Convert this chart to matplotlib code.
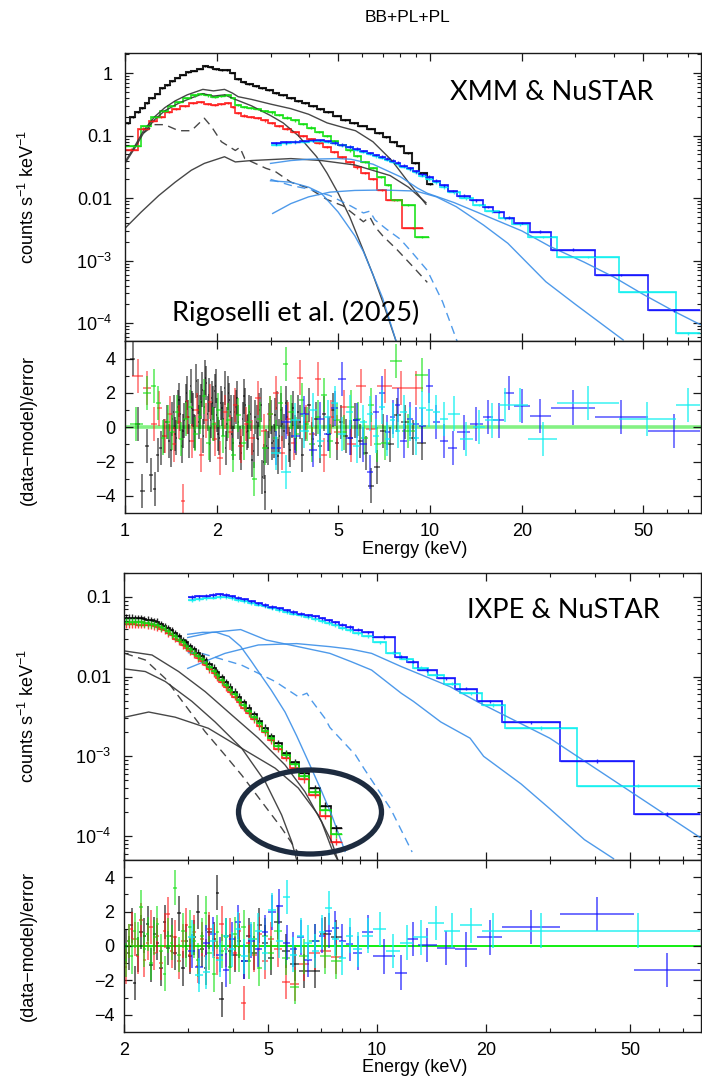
import numpy as np
import matplotlib
matplotlib.use("Agg")
import matplotlib.pyplot as plt
from matplotlib.patches import Ellipse
from matplotlib.ticker import FixedLocator, FixedFormatter, NullFormatter, LogLocator

plt.rcParams['font.family'] = ['Liberation Sans', 'DejaVu Sans']
plt.rcParams['mathtext.fontset'] = 'custom'
plt.rcParams['mathtext.rm'] = 'Liberation Sans'
plt.rcParams['mathtext.it'] = 'Liberation Sans:italic'
plt.rcParams['mathtext.bf'] = 'Liberation Sans:bold'
plt.rcParams['axes.unicode_minus'] = True

# ---------------- colours ----------------
C_PN, C_M1, C_M2, C_FA, C_FB = 'black', '#ff1a1a', '#10e010', '#1010ff', '#10f0f0'
C_CBLK, C_CBLU = '#333333', '#3b8fe8'

# ================= XMM & NuSTAR spectra =================
pn_edges = [1.00, 1.04, 1.08, 1.12, 1.16, 1.20, 1.25, 1.30, 1.35, 1.40,
            1.46, 1.52, 1.58, 1.65, 1.72, 1.80, 1.87, 1.95, 2.03, 2.12,
            2.21, 2.30, 2.40, 2.50, 2.62, 2.75, 2.90, 3.05, 3.20, 3.40,
            3.60, 3.80, 4.00, 4.25, 4.50, 4.80, 5.10, 5.45, 5.80, 6.20,
            6.60, 7.00, 7.40, 7.80, 8.20, 8.70, 9.20, 9.75, 10.2]
pn_rate = [0.157, 0.20, 0.24, 0.28, 0.33, 0.40, 0.47, 0.57, 0.65, 0.74,
           0.85, 0.95, 1.03, 1.10, 1.18, 1.30, 1.25, 1.15, 1.12, 1.12,
           1.02, 0.80, 0.72, 0.67, 0.62, 0.57, 0.53, 0.48, 0.44, 0.40,
           0.36, 0.33, 0.30, 0.27, 0.24, 0.21, 0.18, 0.16, 0.145, 0.13,
           0.11, 0.095, 0.080, 0.068, 0.052, 0.036, 0.025, 0.017]

mos2_edges = [1.00, 1.13, 1.22, 1.30, 1.38, 1.46, 1.55, 1.65, 1.74, 1.82,
              1.92, 2.02, 2.12, 2.22, 2.30, 2.40, 2.52, 2.65, 2.80, 2.95,
              3.10, 3.30, 3.50, 3.72, 3.95, 4.20, 4.45, 4.72, 5.00, 5.30,
              5.62, 5.95, 6.30, 6.70, 7.10, 7.45, 8.10, 8.90, 9.90]
mos2_rate = [0.069, 0.144, 0.20, 0.25, 0.30, 0.35, 0.40, 0.44, 0.47, 0.44,
             0.42, 0.43, 0.445, 0.40, 0.31, 0.29, 0.28, 0.27, 0.25, 0.235,
             0.215, 0.195, 0.175, 0.155, 0.135, 0.115, 0.098, 0.083, 0.07, 0.058,
             0.047, 0.038, 0.030, 0.022, 0.0162, 0.0093, 0.0077, 0.0024]

mos1_edges = [1.00, 1.10, 1.20, 1.27, 1.35, 1.43, 1.52, 1.62, 1.72, 1.82,
              1.92, 2.02, 2.12, 2.22, 2.30, 2.40, 2.52, 2.65, 2.80, 2.95,
              3.10, 3.30, 3.50, 3.72, 3.95, 4.20, 4.45, 4.72, 5.00, 5.30,
              5.62, 5.95, 6.30, 6.70, 7.20, 8.10, 9.50]
mos1_rate = [0.06, 0.13, 0.17, 0.20, 0.24, 0.27, 0.30, 0.33, 0.35, 0.32,
             0.31, 0.32, 0.33, 0.29, 0.23, 0.21, 0.20, 0.19, 0.175, 0.16,
             0.145, 0.13, 0.115, 0.10, 0.088, 0.076, 0.065, 0.055, 0.046, 0.038,
             0.031, 0.025, 0.020, 0.0135, 0.0095, 0.0033]

fpma1_edges = [3.0, 3.25, 3.5, 3.75, 4.0, 4.25, 4.5, 4.75, 5.0, 5.3,
               5.6, 5.9, 6.2, 6.5, 6.8, 7.1, 7.4, 7.7, 8.0, 8.4,
               8.8, 9.2, 9.7, 10.2, 10.8, 11.5, 12.3, 13.5, 14.9, 16.1,
               17.5, 18.9, 21.3, 24.9, 34.7, 51.9, 77.0]
fpma1_rate = [0.076, 0.078, 0.080, 0.082, 0.084, 0.085, 0.082, 0.077, 0.072, 0.067,
              0.062, 0.057, 0.053, 0.049, 0.046, 0.043, 0.040, 0.037, 0.033, 0.030,
              0.027, 0.024, 0.022, 0.019, 0.016, 0.013, 0.011, 0.0093, 0.0072, 0.0060,
              0.0049, 0.0040, 0.0029, 0.0015, 5.9e-4, 1.6e-4]
fpma1_resid = [-1.2, 0.3, -0.5, 0.8, -1.3, 0.5, -0.4, 1.1, 2.8, -0.6,
               0.4, -1.0, -2.6, 0.9, 2.0, -0.3, 0.6, 1.3, -0.8, 0.5,
               0.2, 0.1, 2.4, 0.3, -0.8, -1.2, -0.3, 0.2, 0.6, 0.4,
               2.0, 1.25, 0.65, 1.15, 0.6, -0.2]

fpmb1_edges = [3.0, 3.25, 3.5, 3.75, 4.0, 4.25, 4.5, 4.75, 5.0, 5.3,
               5.6, 5.9, 6.2, 6.5, 6.8, 7.1, 7.4, 7.7, 8.0, 8.4,
               8.8, 9.2, 9.7, 10.2, 10.8, 11.5, 12.5, 13.8, 15.2, 16.8,
               18.6, 21.0, 26.1, 41.7, 64.0, 77.0]
fpmb1_rate = [0.072, 0.075, 0.078, 0.080, 0.082, 0.083, 0.080, 0.075, 0.070, 0.065,
              0.060, 0.055, 0.051, 0.047, 0.044, 0.041, 0.038, 0.035, 0.032, 0.029,
              0.026, 0.023, 0.020, 0.018, 0.015, 0.0125, 0.0100, 0.0078, 0.0062, 0.0048,
              0.0038, 0.0024, 0.00115, 3.2e-4, 6.9e-5]
fpmb1_resid = [-1.5, -2.6, 0.4, -0.2, 1.0, -0.8, 0.6, 1.4, -0.4, 0.9,
               -1.1, 0.3, 0.8, -0.5, 1.2, -0.7, 0.4, -0.2, 0.9, 0.2,
               -0.6, 1.1, 1.0, 0.9, 0.5, 0.8, -0.7, 0.0, 0.4, 1.3,
               1.3, -0.7, 1.4, 0.5, 1.3]

# XMM residuals (energy, (data-model)/error)
pn_res_E = [1.06, 1.10, 1.14, 1.18, 1.22, 1.25, 1.28, 1.31, 1.34, 1.37,
            1.40, 1.43, 1.46, 1.49, 1.52, 1.55, 1.58, 1.61, 1.64, 1.67,
            1.70, 1.73, 1.76, 1.79, 1.82, 1.85, 1.88, 1.91, 1.94, 1.97,
            2.00, 2.04, 2.08, 2.12, 2.16, 2.20, 2.24, 2.28, 2.33, 2.38,
            2.43, 2.48, 2.53, 2.58, 2.64, 2.70, 2.76, 2.82, 2.88, 2.94,
            3.00, 3.07, 3.14, 3.21, 3.28, 3.36, 3.44, 3.52, 3.60, 3.70,
            3.80, 3.90, 4.00, 4.12, 4.24, 4.36, 4.50, 4.65, 4.80, 4.95,
            5.10, 5.30, 5.50, 5.70, 5.90, 6.15, 6.40, 6.70, 7.00, 7.40,
            7.80, 8.30, 8.80, 9.40,
            1.415, 1.445, 1.475, 1.505, 1.535, 1.565, 1.595, 1.625, 1.655, 1.685,
            1.715, 1.745, 1.775, 1.805, 1.835, 1.865, 1.895, 1.925, 1.955, 1.985,
            2.02, 2.06, 2.10, 2.14, 2.18, 2.22, 2.26, 2.305, 2.355, 2.405,
            2.455, 2.505, 2.555, 2.61, 2.67, 2.73, 2.79, 2.85, 2.91, 2.97,
            3.035, 3.105, 3.175, 3.245, 3.32, 3.40, 3.48, 3.56, 3.65, 3.75]
pn_res = [4.0, 0.2, -3.7, -1.1, -2.8, -3.6, -1.6, -1.2, -0.5, 0.3,
          -0.8, 0.5, -0.4, 1.2, 0.8, -0.2, 1.5, 0.6, 2.4, 1.0,
          -0.3, 1.8, 0.9, 2.2, 1.2, 2.6, 1.9, 0.4, 1.4, 2.1,
          0.7, -0.6, 1.1, 2.3, 0.2, 1.6, -0.4, 0.9, 1.7, -0.9,
          0.5, 1.3, -0.2, 0.8, -1.4, 0.3, 1.0, -2.9, -3.8, -1.2,
          0.6, -0.8, 1.1, -0.5, 0.2, 1.4, -1.0, 0.4, -0.3, 0.9,
          -1.6, 0.2, 1.3, -0.7, 0.5, -1.1, 0.8, -0.4, 1.0, -0.9,
          0.3, -0.5, -0.6, 0.4, -0.8, -1.5, -3.4, -2.3, -0.2, -1.0,
          0.7, 0.3, -0.6, -0.9,
          -1.3, 0.9, -0.6, 1.6, -1.1, 0.4, 2.0, -0.8, 1.1, -0.2,
          2.7, 0.3, 1.5, -0.5, 2.9, 0.8, -1.0, 1.7, 0.2, 2.4,
          -0.4, 1.4, 0.5, -1.2, 2.0, 0.9, -0.9, 1.2, 0.3, -1.5,
          1.8, -0.3, 0.9, -1.9, 0.6, -0.7, 1.3, -2.0, -1.1, 0.4,
          -0.9, 0.7, -1.7, 1.0, -0.2, 0.6, -1.3, 1.1, -0.6, 0.3]

mos2_res_E = [1.09, 1.20, 1.24, 1.29, 1.33, 1.38, 1.43, 1.48, 1.53, 1.58,
              1.64, 1.70, 1.76, 1.82, 1.88, 1.95, 2.02, 2.10, 2.18, 2.26,
              2.35, 2.45, 2.55, 2.65, 2.76, 2.88, 3.00, 3.12, 3.25, 3.35,
              3.50, 3.65, 3.80, 3.95, 4.10, 4.30, 4.50, 4.70, 4.95, 5.20,
              5.50, 5.80, 6.10, 6.40, 6.70, 7.10, 7.70, 8.50, 9.40]
mos2_res = [0.2, 2.0, 2.4, 1.4, -0.6, 0.3, -0.3, 0.9, -0.7, 0.5,
            1.2, -0.4, 0.6, 1.8, -0.9, 0.2, 1.0, -0.5, 0.4, -1.6,
            0.7, -0.9, 0.3, -3.0, 0.5, -1.2, 0.8, -0.6, 1.4, 3.7,
            0.9, -0.4, 1.6, 0.2, -1.0, 0.6, 1.9, -0.8, 0.4, -0.3,
            1.2, 0.5, -0.6, 1.3, -1.0, -0.9, 3.85, -0.2, 3.05]

mos1_res_E = [1.10, 1.19, 1.24, 1.30, 1.35, 1.40, 1.45, 1.50, 1.55, 1.60,
              1.66, 1.72, 1.78, 1.84, 1.90, 1.97, 2.05, 2.13, 2.21, 2.30,
              2.40, 2.50, 2.60, 2.72, 2.85, 2.98, 3.12, 3.27, 3.42, 3.58,
              3.75, 3.92, 4.10, 4.30, 4.50, 4.72, 4.95, 5.20, 5.50, 5.94,
              6.40, 7.00, 8.10, 9.00]
mos1_res = [3.0, 2.3, 0.2, 1.1, -0.5, 0.8, -1.0, 0.3, -4.3, 0.6,
            -0.8, 1.0, -1.6, 0.4, 1.5, -0.7, -1.8, 0.9, -0.3, 1.3,
            -1.1, 0.2, -0.6, 1.7, -0.2, 0.8, 2.0, -1.5, 0.5, -0.9,
            2.9, 0.3, -0.4, 2.8, -1.6, 0.6, -0.3, 1.2, -1.0, 2.4,
            -0.1, 2.4, 2.3, 2.3]

# model components (energy, counts s^-1 keV^-1)
xmm_tot_E = [1.0, 1.08, 1.15, 1.25, 1.35, 1.46, 1.6, 1.8, 1.95, 2.12, 2.25, 2.35,
             2.6, 3.0, 3.5, 4.0, 4.6, 5.2, 5.7, 6.5, 7.5, 8.5, 9.7]
xmm_tot = [0.038, 0.07, 0.12, 0.2, 0.28, 0.36, 0.45, 0.55, 0.52, 0.55, 0.48, 0.42,
           0.38, 0.32, 0.27, 0.22, 0.16, 0.135, 0.12, 0.08, 0.04, 0.018, 0.008]
xmm_bb_E = [1.0, 1.08, 1.15, 1.25, 1.35, 1.5, 1.65, 1.8, 1.95, 2.12, 2.3, 2.6,
            3.0, 3.3, 3.7, 4.25, 4.6, 5.0, 5.46, 6.0, 6.5, 7.0, 7.76]
xmm_bb = [0.036, 0.065, 0.11, 0.18, 0.25, 0.33, 0.40, 0.47, 0.43, 0.45, 0.38, 0.30,
          0.21, 0.16, 0.10, 0.046, 0.025, 0.012, 0.005, 0.0016, 6e-4, 2.2e-4, 5e-5]
xmm_hpl_E = [1.0, 1.13, 1.29, 1.46, 1.65, 1.82, 2.12, 2.3, 2.6, 3.5, 4.4, 5.67,
             7.4, 8.5, 9.7]
xmm_hpl = [0.0033, 0.006, 0.011, 0.018, 0.028, 0.036, 0.046, 0.038, 0.04, 0.043,
           0.04, 0.034, 0.023, 0.015, 0.0085]
xmm_spl_E = [1.15, 1.25, 1.35, 1.5, 1.65, 1.82, 1.92, 2.07, 2.3, 2.38, 2.47, 2.9,
             3.1, 3.5, 4.0, 4.6, 5.2, 6.05, 6.35, 6.6, 7.0, 7.8, 8.8, 9.8]
xmm_spl = [0.11, 0.15, 0.15, 0.12, 0.12, 0.19, 0.14, 0.08, 0.058, 0.065, 0.043, 0.03,
           0.027, 0.018, 0.0145, 0.0095, 0.0075, 0.0042, 0.005, 0.0035, 0.0025,
           0.0015, 8e-4, 4.5e-4]
nu1_hpl_E = [3.0, 3.5, 4.0, 5.0, 5.5, 6.5, 8.0, 9.1, 9.8, 12, 15, 20, 24.7, 32, 40,
             50, 64, 77]
nu1_hpl = [0.036, 0.04, 0.042, 0.043, 0.042, 0.035, 0.022, 0.0145, 0.012, 0.0085,
           0.0054, 0.003, 0.0017, 9.5e-4, 5.5e-4, 2.9e-4, 1.5e-4, 9.5e-5]
nu1_pl2_E = [3.05, 3.5, 4.0, 4.7, 5.67, 7.0, 9.0, 10.5, 12.2, 15, 18, 24, 30, 43]
nu1_pl2 = [0.0057, 0.0082, 0.0105, 0.0125, 0.0133, 0.0135, 0.013, 0.0105, 0.0073,
           0.0037, 0.0019, 4.6e-4, 2e-4, 5.4e-5]
nu1_spl_E = [3.0, 3.5, 4.0, 4.7, 5.5, 6.05, 6.35, 6.6, 7.2, 8.0, 8.8, 9.8, 11, 12.3]
nu1_spl = [0.02, 0.016, 0.014, 0.011, 0.0075, 0.0058, 0.0062, 0.0045, 0.0032,
           0.0022, 0.0013, 7e-4, 2.2e-4, 5e-5]
nu1_bb_E = [3.0, 3.5, 4.0, 4.4, 5.0, 5.67, 6.05, 6.5, 7.0, 7.76]
nu1_bb = [0.019, 0.018, 0.015, 0.012, 0.006, 0.0025, 0.0014, 6e-4, 2.5e-4, 5e-5]

# ================= IXPE & NuSTAR spectra =================
ixpe_edges = [2.00, 2.04, 2.08, 2.12, 2.16, 2.20, 2.25, 2.30, 2.35, 2.40,
              2.45, 2.50, 2.56, 2.62, 2.68, 2.74, 2.80, 2.87, 2.94, 3.01,
              3.08, 3.16, 3.24, 3.32, 3.40, 3.49, 3.58, 3.67, 3.77, 3.87,
              3.98, 4.10, 4.22, 4.35, 4.50, 4.65, 4.82, 5.00, 5.20, 5.45,
              5.75, 6.10, 6.50, 6.95, 7.45, 8.00]
du1_rate = [0.055, 0.055, 0.055, 0.054, 0.054, 0.054, 0.053, 0.052, 0.051, 0.050,
            0.049, 0.046, 0.043, 0.041, 0.038, 0.035, 0.032, 0.029, 0.027, 0.024,
            0.022, 0.020, 0.018, 0.016, 0.0145, 0.013, 0.0114, 0.0099, 0.0086, 0.0075,
            0.0065, 0.0056, 0.0048, 0.0041, 0.0034, 0.0028, 0.0023, 0.0018, 0.00145, 0.0011,
            8.4e-4, 6.2e-4, 4.0e-4, 2.4e-4, 1.25e-4]
du2_rate = [0.046, 0.046, 0.046, 0.046, 0.045, 0.045, 0.045, 0.044, 0.044, 0.043,
            0.042, 0.040, 0.038, 0.035, 0.033, 0.030, 0.028, 0.025, 0.023, 0.021,
            0.019, 0.017, 0.0155, 0.014, 0.0125, 0.011, 0.0097, 0.0085, 0.0074, 0.0065,
            0.0056, 0.0048, 0.0041, 0.0035, 0.0029, 0.0024, 0.0020, 0.0016, 0.00125, 9.6e-4,
            7.2e-4, 5.2e-4, 3.3e-4, 1.8e-4, 8.5e-5]
du3_rate = [0.049, 0.049, 0.049, 0.049, 0.048, 0.048, 0.047, 0.047, 0.046, 0.045,
            0.044, 0.042, 0.040, 0.037, 0.034, 0.032, 0.029, 0.027, 0.024, 0.022,
            0.020, 0.018, 0.0165, 0.0148, 0.0132, 0.0118, 0.0104, 0.0091, 0.0079, 0.0069,
            0.0060, 0.0051, 0.0044, 0.0037, 0.0031, 0.0026, 0.0021, 0.0017, 0.00135, 0.00105,
            7.9e-4, 5.7e-4, 3.6e-4, 2.1e-4, 1.05e-4]
du1_resid = [0.0, -0.4, 1.2, -2.15, -0.5, 0.8, 0.6, 1.3, -1.1, 0.7,
             0.2, -1.3, 1.4, -0.1, 0.6, -0.4, 1.9, -1.3, 0.3, -0.6,
             0.5, 1.97, -0.2, -1.25, 0.8, 0.4, 3.1, -3.1, 0.6, -0.3,
             -0.5, 0.3, -0.9, 0.6, -0.4, 1.2, 0.2, -0.7, 1.4, -0.3,
             -1.05, -1.45, -1.45, 0.7, 0.5]
du2_resid = [-1.2, 0.3, 1.0, 0.4, -0.6, 1.5, -0.8, 0.2, 1.1, -0.4,
             0.6, -1.0, 0.9, 1.87, -0.3, 0.5, -0.9, 0.3, 1.2, -0.5,
             0.8, -1.15, 0.4, -0.6, 1.0, 0.3, -0.7, 1.3, -0.2, 0.6,
             -0.4, 0.9, -3.3, 0.2, -0.5, 0.7, -0.9, 0.4, -0.2, -2.1,
             -2.2, -1.05, -0.4, -0.3, -0.65]
du3_resid = [-0.8, 0.3, -0.6, 0.9, 0.4, 2.25, -0.2, 0.7, -1.0, 0.5,
             1.3, -0.3, -1.6, 0.6, 0.2, 3.4, -0.5, 0.9, -0.2, 1.1,
             0.3, -0.8, 0.6, 1.9, -0.4, -1.65, 0.8, -0.3, 0.5, -1.2,
             0.7, -0.5, 1.1, -0.9, 0.4, -1.3, 0.6, -0.4, 0.9, -0.7,
             -2.4, -0.6, 0.3, -0.6, -0.9]

fpma2_edges = [3.0, 3.15, 3.3, 3.45, 3.6, 3.75, 3.9, 4.05, 4.2, 4.4,
               4.6, 4.8, 5.0, 5.25, 5.5, 5.75, 6.0, 6.3, 6.6, 6.9,
               7.2, 7.5, 7.85, 8.2, 8.6, 9.1, 9.77, 11.21, 12.08, 13.0,
               14.6, 16.4, 18.85, 22.2, 32.1, 51.3, 78.0]
fpma2_rate = [0.100, 0.102, 0.104, 0.106, 0.108, 0.106, 0.102, 0.098, 0.093, 0.088,
              0.083, 0.079, 0.075, 0.072, 0.068, 0.065, 0.062, 0.059, 0.057, 0.054,
              0.051, 0.048, 0.045, 0.042, 0.039, 0.036, 0.0317, 0.0178, 0.0154, 0.0121,
              0.0095, 0.0071, 0.0049, 0.00268, 8.7e-4, 1.9e-4]
fpma2_resid = [-0.3, -1.2, 0.2, 0.7, -0.5, -1.4, 0.4, 1.4, -0.9, 0.3,
               -0.2, 0.8, 1.95, 2.3, 0.2, -0.2, 0.5, -0.8, 0.3, 0.6,
               0.9, 1.05, 0.3, 0.1, -0.4, 0.8, -0.6, -1.55, 0.4, 0.05,
               -0.1, -0.2, 0.5, 1.1, 1.85, -1.4]

fpmb2_edges = [3.0, 3.15, 3.3, 3.45, 3.6, 3.75, 3.9, 4.05, 4.2, 4.4,
               4.6, 4.8, 5.0, 5.25, 5.5, 5.75, 6.0, 6.3, 6.6, 6.9,
               7.2, 7.5, 7.85, 8.2, 8.6, 9.1, 9.77, 10.6, 11.6, 12.6,
               13.8, 15.3, 17.0, 19.5, 22.5, 35.6, 78.0]
fpmb2_rate = [0.092, 0.094, 0.096, 0.098, 0.100, 0.099, 0.096, 0.092, 0.088, 0.084,
              0.080, 0.076, 0.072, 0.068, 0.065, 0.062, 0.059, 0.056, 0.053, 0.050,
              0.047, 0.044, 0.041, 0.038, 0.035, 0.032, 0.027, 0.020, 0.0165, 0.013,
              0.0105, 0.0082, 0.0062, 0.0044, 0.00228, 4.3e-4]
fpmb2_resid = [0.5, -1.7, -1.5, 0.3, -0.8, 0.6, -0.2, 1.0, -0.6, 0.4,
               0.9, -0.4, 2.1, 0.3, 2.85, -0.5, 0.6, 0.2, -0.3, 0.8,
               2.2, 0.4, -0.7, 0.6, -0.2, 0.6, 1.0, -0.3, 0.2, 0.5,
               1.35, 0.9, 1.2, 0.9, 0.9, 0.9]

ix_tot_E = [2.01, 2.39, 2.83, 3.35, 3.97, 4.70, 5.57, 6.32, 7.03, 7.49, 7.82]
ix_tot = [0.021, 0.0187, 0.0116, 0.0065, 0.0033, 0.00169, 7.8e-4, 3.6e-4, 1.5e-4, 7e-5, 4.8e-5]
ix_bb_E = [2.01, 2.29, 2.60, 3.08, 3.57, 4.23, 4.91, 5.45, 5.81, 6.0]
ix_bb = [0.0125, 0.0116, 0.0087, 0.0049, 0.0027, 0.00126, 4.8e-4, 1.84e-4, 8.5e-5, 5e-5]
ix_hpl_E = [2.01, 2.34, 2.77, 3.42, 4.23, 5.23, 6.06, 6.88, 7.49, 7.82]
ix_hpl = [0.0031, 0.0036, 0.0031, 0.00225, 0.00126, 7.1e-4, 4.0e-4, 1.84e-4, 8.5e-5, 4.8e-5]
ix_spl_E = [2.01, 2.29, 2.60, 2.95, 3.35, 3.80, 4.23, 4.80, 5.45, 6.11]
ix_spl = [0.0196, 0.0162, 0.0095, 0.0044, 0.00204, 0.00104, 5.8e-4, 2.7e-4, 1.26e-4, 5.8e-5]
nu2_hpl_E = [3.0, 3.4, 3.8, 4.7, 6.0, 7.41, 8.49, 9.66, 11.66, 15.9, 18.85, 30, 45, 62.1, 78]
nu2_hpl = [0.0127, 0.016, 0.0196, 0.025, 0.026, 0.0238, 0.0221, 0.0196, 0.0134, 0.0075,
           0.0049, 0.00169, 5e-4, 1.9e-4, 9.6e-5]
nu2_pl2_E = [3.0, 3.5, 4.2, 4.95, 6.0, 7.41, 8.49, 9.66, 11.66, 12.6, 15, 18.07, 19.7,
             25, 30, 37.4, 45]
nu2_pl2 = [0.031, 0.036, 0.039, 0.0288, 0.024, 0.0196, 0.0154, 0.0121, 0.0062, 0.0049,
           0.0027, 0.00169, 0.001, 4.5e-4, 2.2e-4, 9e-5, 5.2e-5]
nu2_bb_E = [3.0, 3.3, 3.6, 3.9, 4.2, 4.5, 4.7, 5.1, 5.57, 6.0, 6.46, 7.0, 7.49, 8.16]
nu2_bb = [0.034, 0.036, 0.036, 0.032, 0.024, 0.0155, 0.0116, 0.0068, 0.0036, 0.0018,
          8.6e-4, 3.8e-4, 1.84e-4, 6.4e-5]
nu2_spl_E = [3.0, 3.28, 4.22, 5.23, 6.06, 6.4, 6.6, 7.18, 7.41, 8.72, 9.19, 10.9, 12.5]
nu2_spl = [0.02, 0.0196, 0.014, 0.0087, 0.0056, 0.0062, 0.005, 0.003, 0.0023, 0.00104,
           7.1e-4, 2.2e-4, 6.3e-5]


# ---------------- helpers ----------------
def bins(edges):
    e = np.asarray(edges, float)
    c = np.sqrt(e[:-1] * e[1:])
    return c, c - e[:-1], e[1:] - c


def bins_from_centres(E):
    E = np.asarray(E, float)
    mid = np.sqrt(E[:-1] * E[1:])
    return np.concatenate([[E[0] ** 2 / mid[0]], mid, [E[-1] ** 2 / mid[-1]]])


def sorted_pairs(E, r):
    E = np.asarray(E, float)
    r = np.asarray(r, float)
    order = np.argsort(E)
    return E[order], r[order]


def spectrum(ax, edges, rate, color, frac, lw=1.3, alpha=0.85):
    c, lo, hi = bins(edges)
    v = np.asarray(rate, float)
    ax.stairs(v, edges, color=color, lw=lw, alpha=alpha, baseline=None)
    ax.errorbar(c, v, xerr=[lo, hi], yerr=[v * frac, v * frac], fmt='none',
                ecolor=color, elinewidth=1.0, alpha=alpha, capsize=0)


def residuals(ax, edges, res, color, alpha=0.6, lw=1.3):
    c, lo, hi = bins(edges)
    ax.errorbar(c, res, xerr=[lo, hi], yerr=1.0, fmt='none', ecolor=color,
                elinewidth=lw, alpha=alpha, capsize=0)


def style(ax):
    for s in ax.spines.values():
        s.set_linewidth(1.0)
        s.set_color('#1a1a1a')
    ax.tick_params(which='both', direction='in', top=True, right=True,
                   colors='#1a1a1a', labelcolor='black', labelsize=13)
    ax.tick_params(which='major', length=6, width=0.9)
    ax.tick_params(which='minor', length=3.2, width=0.8)


def energy_axis(ax, xlim, majors, labels):
    ax.set_xscale('log')
    ax.set_xlim(*xlim)
    ax.xaxis.set_major_locator(FixedLocator(majors))
    ax.xaxis.set_minor_locator(FixedLocator([3, 4, 6, 7, 8, 9, 30, 40, 60, 70]))
    ax.xaxis.set_minor_formatter(NullFormatter())
    if labels:
        ax.xaxis.set_major_formatter(FixedFormatter([str(m) for m in majors]))
    else:
        ax.xaxis.set_major_formatter(NullFormatter())


def counts_axis(ax, ylim, decades, labels):
    ax.set_yscale('log')
    ax.set_ylim(*ylim)
    ax.yaxis.set_major_locator(FixedLocator(decades))
    ax.yaxis.set_major_formatter(FixedFormatter(labels))
    ax.yaxis.set_minor_locator(LogLocator(base=10, subs=np.arange(2, 10)))
    ax.yaxis.set_minor_formatter(NullFormatter())


def resid_axis(ax):
    ax.set_ylim(-5, 5)
    ax.yaxis.set_major_locator(FixedLocator([-4, -2, 0, 2, 4]))
    ax.yaxis.set_minor_locator(FixedLocator([-3, -1, 1, 3]))
    ax.tick_params(axis='y', which='major', pad=7)
    ax.tick_params(axis='x', which='major', pad=7)


W, H = 702, 1079
fig = plt.figure(figsize=(W / 100, H / 100), dpi=100)


def frac_axes(l, t, r, b):
    return fig.add_axes([l / W, 1 - b / H, (r - l) / W, (b - t) / H])


ax1 = frac_axes(125, 53, 701, 341.5)
ax2 = frac_axes(125, 341.5, 701, 513)
ax3 = frac_axes(124, 573, 701, 860)
ax4 = frac_axes(124, 860, 701, 1032)

spec_labels_top = ['$10^{-4}$', '$10^{-3}$', '0.01', '0.1', '1']
spec_labels_bot = ['$10^{-4}$', '$10^{-3}$', '0.01', '0.1']
DASH = (0, (6, 4))

# ---------- XMM & NuSTAR spectrum ----------
ax = ax1
for E, v, ls, col in [(xmm_tot_E, xmm_tot, '-', C_CBLK), (xmm_bb_E, xmm_bb, '-', C_CBLK),
                      (xmm_hpl_E, xmm_hpl, '-', C_CBLK), (xmm_spl_E, xmm_spl, DASH, C_CBLK),
                      (nu1_hpl_E, nu1_hpl, '-', C_CBLU), (nu1_pl2_E, nu1_pl2, '-', C_CBLU),
                      (nu1_spl_E, nu1_spl, DASH, C_CBLU), (nu1_bb_E, nu1_bb, '-', C_CBLU)]:
    ax.plot(E, v, color=col, lw=1.0, ls=ls, alpha=0.9)
spectrum(ax, pn_edges, pn_rate, C_PN, 0.03, lw=1.5)
spectrum(ax, mos1_edges, mos1_rate, C_M1, 0.04)
spectrum(ax, mos2_edges, mos2_rate, C_M2, 0.04)
spectrum(ax, fpmb1_edges, fpmb1_rate, C_FB, 0.05)
spectrum(ax, fpma1_edges, fpma1_rate, C_FA, 0.05)
energy_axis(ax, (1.0, 77.4), [1, 2, 5, 10, 20, 50], False)
counts_axis(ax, (5.1e-5, 2.1), [1e-4, 1e-3, 1e-2, 1e-1, 1], spec_labels_top)
style(ax)
ax.tick_params(axis='y', which='major', pad=9)

# ---------- XMM & NuSTAR residuals ----------
ax = ax2
ax.axhline(0, color='#66ee66', lw=2.6, alpha=0.8, zorder=1)
pnE, pnR = sorted_pairs(pn_res_E, pn_res)
residuals(ax, bins_from_centres(pnE), pnR, C_PN, alpha=0.55)
residuals(ax, bins_from_centres(mos1_res_E), mos1_res, C_M1, alpha=0.55)
residuals(ax, bins_from_centres(mos2_res_E), mos2_res, C_M2, alpha=0.6)
residuals(ax, fpma1_edges, fpma1_resid, C_FA, alpha=0.6)
residuals(ax, fpmb1_edges, fpmb1_resid, C_FB, alpha=0.7)
energy_axis(ax, (1.0, 77.4), [1, 2, 5, 10, 20, 50], True)
style(ax)
resid_axis(ax)

# ---------- IXPE & NuSTAR spectrum ----------
ax = ax3
for E, v, ls, col in [(ix_tot_E, ix_tot, '-', C_CBLK), (ix_bb_E, ix_bb, '-', C_CBLK),
                      (ix_hpl_E, ix_hpl, '-', C_CBLK), (ix_spl_E, ix_spl, DASH, C_CBLK),
                      (nu2_hpl_E, nu2_hpl, '-', C_CBLU), (nu2_pl2_E, nu2_pl2, '-', C_CBLU),
                      (nu2_spl_E, nu2_spl, DASH, C_CBLU), (nu2_bb_E, nu2_bb, '-', C_CBLU)]:
    ax.plot(E, v, color=col, lw=1.0, ls=ls, alpha=0.9)
spectrum(ax, ixpe_edges, du1_rate, C_PN, 0.1)
spectrum(ax, ixpe_edges, du2_rate, C_M1, 0.1)
spectrum(ax, ixpe_edges, du3_rate, C_M2, 0.1)
spectrum(ax, fpmb2_edges, fpmb2_rate, C_FB, 0.05)
spectrum(ax, fpma2_edges, fpma2_rate, C_FA, 0.05)
energy_axis(ax, (2.0, 78.5), [2, 5, 10, 20, 50], False)
counts_axis(ax, (5.0e-5, 0.2), [1e-4, 1e-3, 1e-2, 1e-1], spec_labels_bot)
style(ax)
ax.tick_params(axis='y', which='major', pad=9)

# ---------- IXPE & NuSTAR residuals ----------
ax = ax4
ax.axhline(0, color='#00ee00', lw=1.3, zorder=1)
residuals(ax, ixpe_edges, du1_resid, C_PN, alpha=0.6)
residuals(ax, ixpe_edges, du2_resid, C_M1, alpha=0.6)
residuals(ax, ixpe_edges, du3_resid, C_M2, alpha=0.6)
residuals(ax, fpma2_edges, fpma2_resid, C_FA, alpha=0.65)
residuals(ax, fpmb2_edges, fpmb2_resid, C_FB, alpha=0.75)
energy_axis(ax, (2.0, 78.5), [2, 5, 10, 20, 50], True)
style(ax)
resid_axis(ax)

# ---------- labels and annotations ----------
fig.text(407 / W, 1 - 17 / H, 'BB+PL+PL', ha='center', va='center', fontsize=12.5)
for yc in (197, 716):
    fig.text(28 / W, 1 - yc / H, 'counts s$^{-1}$ keV$^{-1}$', rotation=90,
             ha='center', va='center', fontsize=13)
for yc in (430, 946):
    fig.text(28 / W, 1 - yc / H, '(data\u2212model)/error', rotation=90,
             ha='center', va='center', fontsize=13)
for yc in (550, 1067):
    fig.text(415 / W, 1 - yc / H, 'Energy (keV)', ha='center', va='center', fontsize=13)

fig.text(552 / W, 1 - 92 / H, 'XMM & NuSTAR', ha='center', va='center',
         fontsize=19.5, family=['Lato', 'DejaVu Sans'])
fig.text(296 / W, 1 - 313 / H, 'Rigoselli et al. (2025)', ha='center', va='center',
         fontsize=19.5, family=['Lato', 'DejaVu Sans'])
fig.text(563 / W, 1 - 610 / H, 'IXPE & NuSTAR', ha='center', va='center',
         fontsize=19.5, family=['Lato', 'DejaVu Sans'])

fig.add_artist(Ellipse((310 / W, 1 - 812 / H), 143 / W, 84 / H, transform=fig.transFigure,
                       fill=False, edgecolor='#1d2b3f', lw=3.8, zorder=10))

fig.savefig('out.png', dpi=100)
